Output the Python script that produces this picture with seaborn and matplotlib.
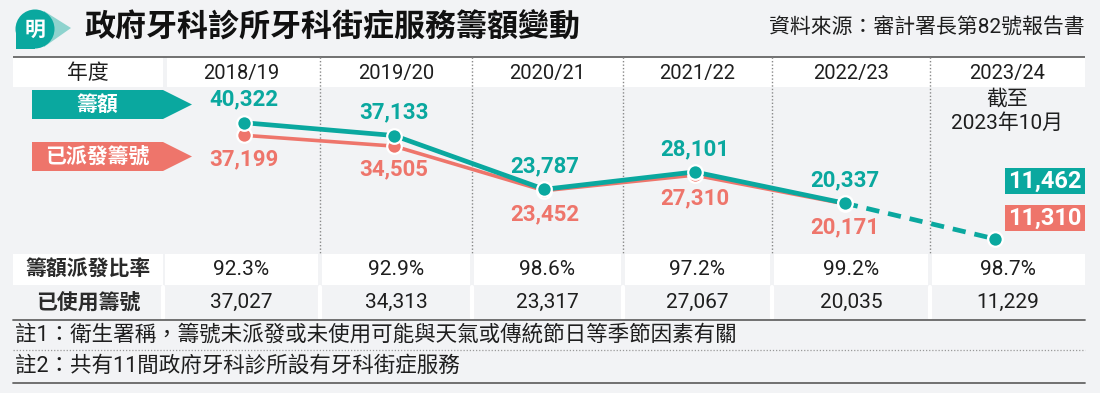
import numpy as np
import pandas as pd
import seaborn as sns
import matplotlib
matplotlib.use("Agg")
import matplotlib.pyplot as plt
from matplotlib.patches import Rectangle, Polygon, Circle

# ---------------- data ----------------
years = ["2018/19", "2019/20", "2020/21", "2021/22", "2022/23", "2023/24"]
quota = [40322, 37133, 23787, 28101, 20337, 11462]          # 籌額
issued = [37199, 34505, 23452, 27310, 20171, 11310]         # 已派發籌號
ratio = ["92.3%", "92.9%", "98.6%", "97.2%", "99.2%", "98.7%"]  # 籌額派發比率
used = [37027, 34313, 23317, 27067, 20035, 11229]           # 已使用籌號
title = "政府牙科診所牙科街症服務籌額變動"
source = "資料來源：審計署長第82號報告書"
note_last = ["截至", "2023年10月"]
notes = ["註1：衛生署稱，籌號未派發或未使用可能與天氣或傳統節日等季節因素有關",
         "註2：共有11間政府牙科診所設有牙科街症服務"]
row_labels = ["年度", "籌額", "已派發籌號", "籌額派發比率", "已使用籌號"]

# ---------------- style ----------------
BG = "#f2f3f5"
TEAL = "#0aa89f"
TEAL_LIGHT = "#8ed3ce"
RED = "#ee756b"
DARK = "#1e1e1e"
CJK = ["Noto Sans CJK TC", "DejaVu Sans"]
NUM = ["Roboto", "Noto Sans CJK TC", "DejaVu Sans"]

sns.set_theme(style="white")
plt.rcParams["font.family"] = NUM

fig = plt.figure(figsize=(11, 3.93), dpi=100, facecolor=BG)

# decoration layer in pixel coordinates
deco = fig.add_axes([0, 0, 1, 1], zorder=0)
deco.set_xlim(0, 1100)
deco.set_ylim(393, 0)
deco.axis("off")
deco.set_facecolor(BG)

# ---- logo ----
deco.add_patch(Polygon([(44, 11), (71, 28), (44, 47)], closed=True, fc=TEAL_LIGHT, ec="none"))
deco.add_patch(Circle((35, 29), 19.5, fc=TEAL, ec="none"))
deco.add_patch(Rectangle((15.5, 29), 19.5, 19.5, fc=TEAL, ec="none"))
deco.text(35, 29, "明", color="white", fontsize=15, fontweight="bold", family=CJK,
          ha="center", va="center", style="italic")

# ---- title / source ----
deco.text(84, 28, title, fontsize=22.3, fontweight="bold", family=CJK, color="#111",
          ha="left", va="center")
deco.text(1085, 28, source, fontsize=15, family=NUM, color=DARK, ha="right", va="center")

# ---- table layout ----
left, right = 13, 1085
bounds = [163, 320, 472, 623, 772, 930, 1085]
centers = [(bounds[i] + bounds[i + 1]) / 2 for i in range(6)]

# header row
deco.add_patch(Rectangle((left, 57), 163 - left, 30, fc="white", ec="none"))
deco.add_patch(Rectangle((167, 57), right - 167, 30, fc="white", ec="none"))
deco.plot([left, right], [57, 57], color="#666", lw=1.3, solid_capstyle="butt")
deco.text(88, 73, row_labels[0], fontsize=15, family=CJK, color=DARK, ha="center", va="center")
for c, y in zip(centers, years):
    deco.text(c, 73, y, fontsize=14.5, color=DARK, ha="center", va="center")

# dotted column dividers
for b in bounds[1:-1]:
    deco.plot([b, b], [57, 254], color="#888", lw=1.0, ls=(0, (1, 1.5)))

# banners
deco.add_patch(Polygon([(32, 90), (163, 90), (192, 104.5), (163, 119), (32, 119)],
                       closed=True, fc=TEAL, ec="none"))
deco.text(97, 104.5, row_labels[1], fontsize=15, fontweight="bold", family=CJK,
          color="white", ha="center", va="center")
deco.add_patch(Polygon([(32, 142), (163, 142), (192, 156.5), (163, 171), (32, 171)],
                       closed=True, fc=RED, ec="none"))
deco.text(97, 156.5, row_labels[2], fontsize=15, fontweight="bold", family=CJK,
          color="white", ha="center", va="center")

# note for last year
deco.text(centers[5], 99, note_last[0], fontsize=15, family=CJK, color=DARK, ha="center", va="center")
deco.text(centers[5], 123, note_last[1], fontsize=15, family=NUM, color=DARK, ha="center", va="center")

# bottom rows
deco.add_patch(Rectangle((left, 254), 163 - left, 31, fc="white", ec="none"))
for i in range(6):
    x0 = bounds[i] + 2
    x1 = bounds[i + 1] - 2 if i < 5 else right
    deco.add_patch(Rectangle((x0, 254), x1 - x0, 31, fc="white", ec="none"))
for b in bounds[:-1]:
    deco.plot([b, b], [287, 318], color="white", lw=3)
deco.text(88, 269.5, row_labels[3], fontsize=15, fontweight="bold", family=CJK, color="#2a2a2a",
          ha="center", va="center")
deco.text(88, 302.5, row_labels[4], fontsize=15, fontweight="bold", family=CJK, color="#2a2a2a",
          ha="center", va="center")
for c, r, u in zip(centers, ratio, used):
    deco.text(c, 269.5, r, fontsize=15, color=DARK, ha="center", va="center")
    deco.text(c, 302.5, f"{u:,}", fontsize=15, color=DARK, ha="center", va="center")

deco.plot([left, right], [320, 320], color="#666", lw=1.3)
deco.text(15, 335, notes[0], fontsize=15.5, family=NUM, color=DARK, ha="left", va="center")
deco.plot([left, right], [350, 350], color="#999", lw=0.9, ls=(0, (1, 1.5)))
deco.text(15, 366, notes[1], fontsize=15.5, family=NUM, color=DARK, ha="left", va="center")
deco.plot([left, right], [383, 383], color="#666", lw=1.3)

# ---------------- line chart ----------------
ax = fig.add_axes([163 / 1100, 1 - 252 / 393, 922 / 1100, 164 / 393], zorder=2)
ax.patch.set_alpha(0)
df = pd.DataFrame({"idx": np.arange(len(years)), "quota": quota, "issued": issued})

mk = dict(marker="o", markersize=10.5, markeredgecolor="white", markeredgewidth=1.6)
sns.lineplot(data=df.iloc[:5], x="idx", y="issued", color=RED, lw=2.6, ax=ax, legend=False, **mk)
sns.lineplot(data=df.iloc[:5], x="idx", y="quota", color=TEAL, lw=3.4, ax=ax, legend=False, **mk)
sns.lineplot(data=df.iloc[4:6], x="idx", y="quota", color=TEAL, lw=3.4, ax=ax, legend=False,
             linestyle=(0, (2.8, 1.9)), **mk)

ax.set_xlim(-0.539, 5.599)
ax.set_ylim(8222, 48937)
ax.axis("off")

for i in range(5):
    ax.annotate(f"{quota[i]:,}", (i, quota[i]), xytext=(0, 16.5), textcoords="offset points",
                ha="center", va="center", color=TEAL, fontsize=16, fontweight="bold")
    ax.annotate(f"{issued[i]:,}", (i, issued[i]), xytext=(0, -17), textcoords="offset points",
                ha="center", va="center", color=RED, fontsize=16, fontweight="bold")

# boxed values for latest year
deco.add_patch(Rectangle((1005, 168), 80, 25.5, fc=TEAL, ec="none"))
deco.text(1045, 181, f"{quota[5]:,}", fontsize=17, fontweight="bold", color="white",
          ha="center", va="center")
deco.add_patch(Rectangle((1005, 205), 80, 25.5, fc=RED, ec="none"))
deco.text(1045, 218, f"{issued[5]:,}", fontsize=17, fontweight="bold", color="white",
          ha="center", va="center")

fig.savefig("out.png", dpi=100, facecolor=BG)
